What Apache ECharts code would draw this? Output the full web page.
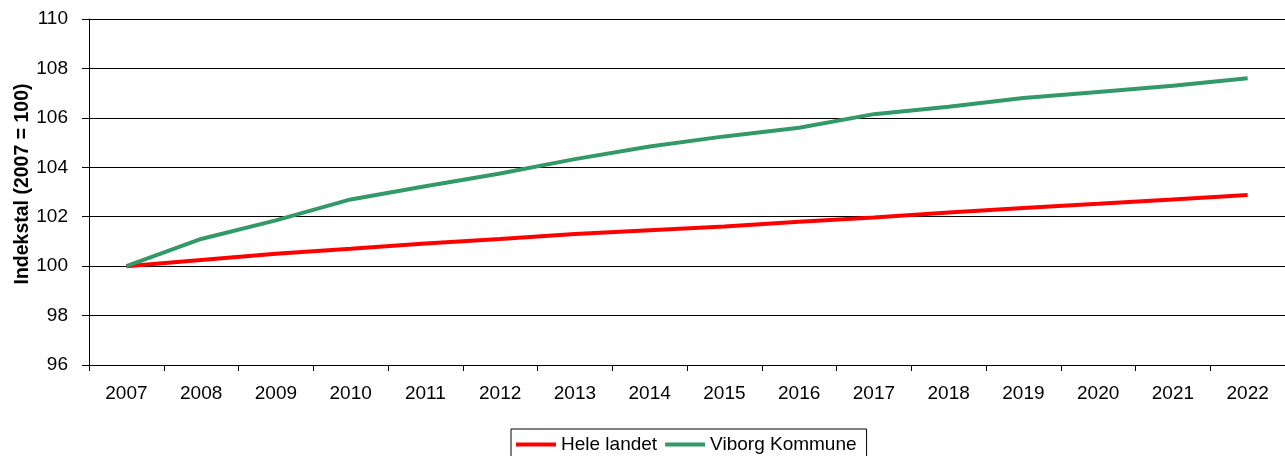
<!DOCTYPE html>
<html>
<head>
<meta charset="utf-8">
<script src="https://cdn.jsdelivr.net/npm/echarts@6/dist/echarts.min.js"></script>
<style>
html,body{margin:0;padding:0;background:#fff;}
#chart{width:1285px;height:456px;}
</style>
</head>
<body>
<div id="chart"></div>
<script>
const years = ['2007','2008','2009','2010','2011','2012','2013','2014','2015','2016','2017','2018','2019','2020','2021','2022'];
const heleLandet = [100, 100.25, 100.5, 100.7, 100.92, 101.1, 101.3, 101.45, 101.6, 101.8, 101.97, 102.17, 102.35, 102.52, 102.7, 102.88];
const viborgKommune = [100, 101.1, 101.85, 102.7, 103.23, 103.75, 104.33, 104.84, 105.25, 105.6, 106.15, 106.45, 106.8, 107.05, 107.3, 107.6];
const yTicks = {min: 96, max: 110, interval: 2};
const yTitle = 'Indekstal (2007 = 100)';

const chart = echarts.init(document.getElementById('chart'), null, {renderer: 'canvas'});
const font = 'Liberation Sans, Arial, sans-serif';
chart.setOption({
  animation: false,
  textStyle: {fontFamily: font},
  grid: {left: 89, top: 19, width: 1202, height: 346, containLabel: false},
  legend: {
    left: 511, top: 429,
    orient: 'horizontal',
    icon: 'rect',
    itemWidth: 40, itemHeight: 4, itemGap: 8,
    padding: [6, 10, 6, 5],
    borderColor: '#000', borderWidth: 1,
    textStyle: {fontSize: 19, color: '#000', fontFamily: font},
    data: ['Hele landet', 'Viborg Kommune']
  },
  graphic: [{
    type: 'text',
    x: 23, y: 184,
    rotation: Math.PI / 2,
    style: {
      text: yTitle,
      font: 'bold 19.5px ' + font,
      fill: '#000',
      align: 'center',
      verticalAlign: 'middle'
    }
  }],
  xAxis: {
    type: 'category',
    data: years,
    boundaryGap: true,
    axisLine: {lineStyle: {color: '#000', width: 1}},
    axisTick: {show: true, length: 6, lineStyle: {color: '#000'}},
    axisLabel: {color: '#000', fontSize: 19, margin: 19, fontFamily: font},
    splitLine: {show: false}
  },
  yAxis: {
    type: 'value',
    min: yTicks.min, max: yTicks.max, interval: yTicks.interval,
    axisLine: {show: true, lineStyle: {color: '#000', width: 1}},
    axisTick: {show: true, length: 7, lineStyle: {color: '#000'}},
    axisLabel: {color: '#000', fontSize: 19, margin: 21, fontFamily: font},
    splitLine: {show: true, lineStyle: {color: '#000', width: 1}}
  },
  series: [
    {
      name: 'Hele landet', type: 'line', data: heleLandet,
      symbol: 'none', lineStyle: {color: '#FF0000', width: 4},
      itemStyle: {color: '#FF0000'}, z: 3
    },
    {
      name: 'Viborg Kommune', type: 'line', data: viborgKommune,
      symbol: 'none', lineStyle: {color: '#339966', width: 4},
      itemStyle: {color: '#339966'}, z: 4
    }
  ]
});
</script>
</body>
</html>
